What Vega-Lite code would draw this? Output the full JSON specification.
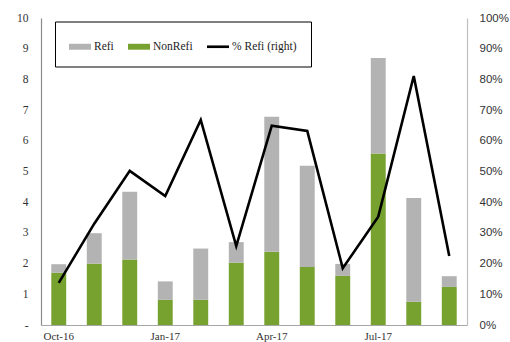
{
  "$schema": "https://vega.github.io/schema/vega-lite/v6.json",
  "width": 426,
  "height": 307,
  "autosize": {"type": "none"},
  "padding": {"left": 41, "top": 18, "right": 43, "bottom": 17},
  "background": "white",
  "config": {
    "view": {"stroke": null},
    "axis": {"grid": false, "ticks": false, "title": null, "labelColor": "#333333"}
  },
  "datasets": {
    "loans": [
      {"month": "Oct-16", "NonRefi": 1.70, "Refi": 0.28, "pct": 0.137},
      {"month": "Nov-16", "NonRefi": 2.00, "Refi": 0.99, "pct": 0.33},
      {"month": "Dec-16", "NonRefi": 2.13, "Refi": 2.21, "pct": 0.502},
      {"month": "Jan-17", "NonRefi": 0.82, "Refi": 0.60, "pct": 0.42},
      {"month": "Feb-17", "NonRefi": 0.82, "Refi": 1.67, "pct": 0.668},
      {"month": "Mar-17", "NonRefi": 2.03, "Refi": 0.67, "pct": 0.257},
      {"month": "Apr-17", "NonRefi": 2.39, "Refi": 4.39, "pct": 0.649},
      {"month": "May-17", "NonRefi": 1.89, "Refi": 3.30, "pct": 0.632},
      {"month": "Jun-17", "NonRefi": 1.60, "Refi": 0.39, "pct": 0.185},
      {"month": "Jul-17", "NonRefi": 5.59, "Refi": 3.11, "pct": 0.353},
      {"month": "Aug-17", "NonRefi": 0.76, "Refi": 3.38, "pct": 0.811},
      {"month": "Sep-17", "NonRefi": 1.24, "Refi": 0.35, "pct": 0.225}
    ]
  },
  "data": {"name": "loans"},
  "layer": [
    {
      "transform": [{"fold": ["NonRefi", "Refi"], "as": ["series", "amount"]}],
      "mark": {"type": "bar"},
      "encoding": {
        "x": {
          "field": "month",
          "type": "nominal",
          "sort": null,
          "scale": {"paddingInner": 0.58, "paddingOuter": 0.29},
          "axis": {
            "values": ["Oct-16", "Jan-17", "Apr-17", "Jul-17"],
            "labelAngle": 0,
            "labelFont": "Liberation Serif",
            "labelFontSize": 11,
            "labelPadding": 5,
            "domainColor": "#a6a6a6",
            "domainWidth": 1.2
          }
        },
        "y": {
          "field": "amount",
          "type": "quantitative",
          "stack": "zero",
          "scale": {"domain": [0, 10], "nice": false},
          "axis": {
            "tickCount": 10,
            "labelExpr": "datum.value === 0 ? '-' : datum.label",
            "labelFont": "Liberation Serif",
            "labelFontSize": 11.5,
            "labelPadding": 13,
            "domainColor": "#8c8c8c",
            "domainWidth": 1.2
          }
        },
        "color": {
          "field": "series",
          "type": "nominal",
          "scale": {
            "domain": ["Refi", "NonRefi", "% Refi (right)"],
            "range": ["#b3b3b3", "#78a22f", "#000000"]
          },
          "legend": {
            "title": null,
            "orient": "none",
            "legendX": 14,
            "legendY": 3.5,
            "direction": "horizontal",
            "padding": 14,
            "strokeColor": "#000000",
            "fillColor": "#ffffff",
            "columnPadding": 14,
            "labelOffset": 3,
            "labelFont": "Liberation Serif",
            "labelFontSize": 11.5,
            "labelColor": "#222222",
            "symbolSize": 484,
            "symbolStrokeWidth": 0,
            "encode": {
              "symbols": {
                "update": {
                  "shape": {"signal": "datum.label === '% Refi (right)' ? 'M-1,-0.12H1V0.12H-1Z' : 'M-1,-0.27H1V0.27H-1Z'"},
                  "strokeWidth": {"value": 0}
                }
              }
            }
          }
        },
        "order": {"field": "series", "sort": "ascending"}
      }
    },
    {
      "mark": {"type": "line", "color": "#000000", "strokeWidth": 2.6},
      "encoding": {
        "x": {"field": "month", "type": "nominal", "sort": null},
        "y": {
          "field": "pct",
          "type": "quantitative",
          "scale": {"domain": [0, 1], "nice": false},
          "axis": {
            "orient": "right",
            "format": "0%",
            "tickCount": 10,
            "labelFont": "Liberation Sans",
            "labelFontSize": 11.5,
            "labelPadding": 12,
            "domainColor": "#bfbfbf",
            "domainWidth": 1.2
          }
        }
      }
    }
  ],
  "resolve": {"scale": {"y": "independent"}}
}
